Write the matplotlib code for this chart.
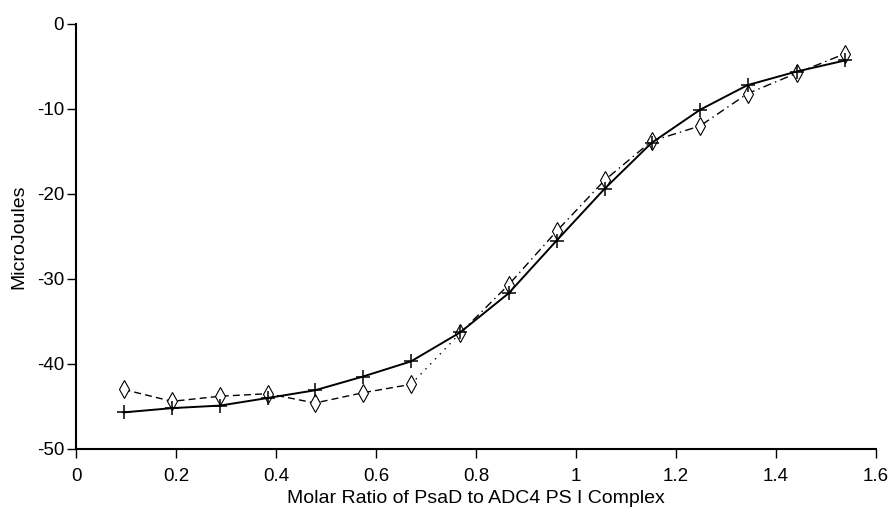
import matplotlib
matplotlib.use("Agg")
import matplotlib.pyplot as plt

plt.rcParams["font.family"] = ["Liberation Sans", "DejaVu Sans"]
plt.rcParams["axes.unicode_minus"] = False

# Molar ratio (x) for both titrations
ratio = [0.095, 0.192, 0.288, 0.384, 0.478, 0.573, 0.670, 0.768,
         0.865, 0.961, 1.057, 1.151, 1.248, 1.343, 1.441, 1.538]
# Heat per injection, microjoules
plus_vals = [-45.7, -45.2, -44.9, -44.0, -43.1, -41.5, -39.7, -36.3,
             -31.7, -25.5, -19.4, -14.0, -10.1, -7.2, -5.6, -4.3]
diamond_vals = [-43.0, -44.4, -43.8, -43.5, -44.6, -43.4, -42.4, -36.4,
                -30.7, -24.4, -18.4, -13.8, -12.0, -8.2, -5.8, -3.5]

xticks = [0, 0.2, 0.4, 0.6, 0.8, 1.0, 1.2, 1.4, 1.6]
xticklabels = ["0", "0.2", "0.4", "0.6", "0.8", "1", "1.2", "1.4", "1.6"]
yticks = [-50, -40, -30, -20, -10, 0]

fig = plt.figure(figsize=(8.91, 5.09), dpi=100)
ax = fig.add_axes([0.0853, 0.118, 0.8979, 0.835])

# diamond series: dashed, with a dotted jump between points 7 and 8
ax.plot(ratio[:7], diamond_vals[:7], color="black", lw=1.0, dashes=(5, 3))
ax.plot(ratio[6:8], diamond_vals[6:8], color="black", lw=1.0, dashes=(1, 4))
ax.plot(ratio[7:], diamond_vals[7:], color="black", lw=1.0, dashes=(6, 3, 1, 3))
ax.plot(ratio, diamond_vals, ls="none", marker="d", ms=9, mfc="white",
        mec="black", mew=0.8)

ax.plot(ratio, plus_vals, color="black", lw=1.4, marker="+", ms=10, mew=1.1)

ax.set_xlim(0, 1.6)
ax.set_ylim(-50, 0)
ax.set_xticks(xticks)
ax.set_xticklabels(xticklabels)
ax.set_yticks(yticks)
ax.spines["top"].set_visible(False)
ax.spines["right"].set_visible(False)
for s in ("left", "bottom"):
    ax.spines[s].set_linewidth(1.5)
ax.tick_params(direction="out", length=6.5, width=1.0, labelsize=13.5)
ax.tick_params(axis="y", pad=2)
ax.tick_params(axis="x", pad=7)
ax.set_xlabel("Molar Ratio of PsaD to ADC4 PS I Complex", fontsize=14, labelpad=4)
ax.set_ylabel("MicroJoules", fontsize=14, labelpad=7)

fig.savefig("out.png", dpi=100)
